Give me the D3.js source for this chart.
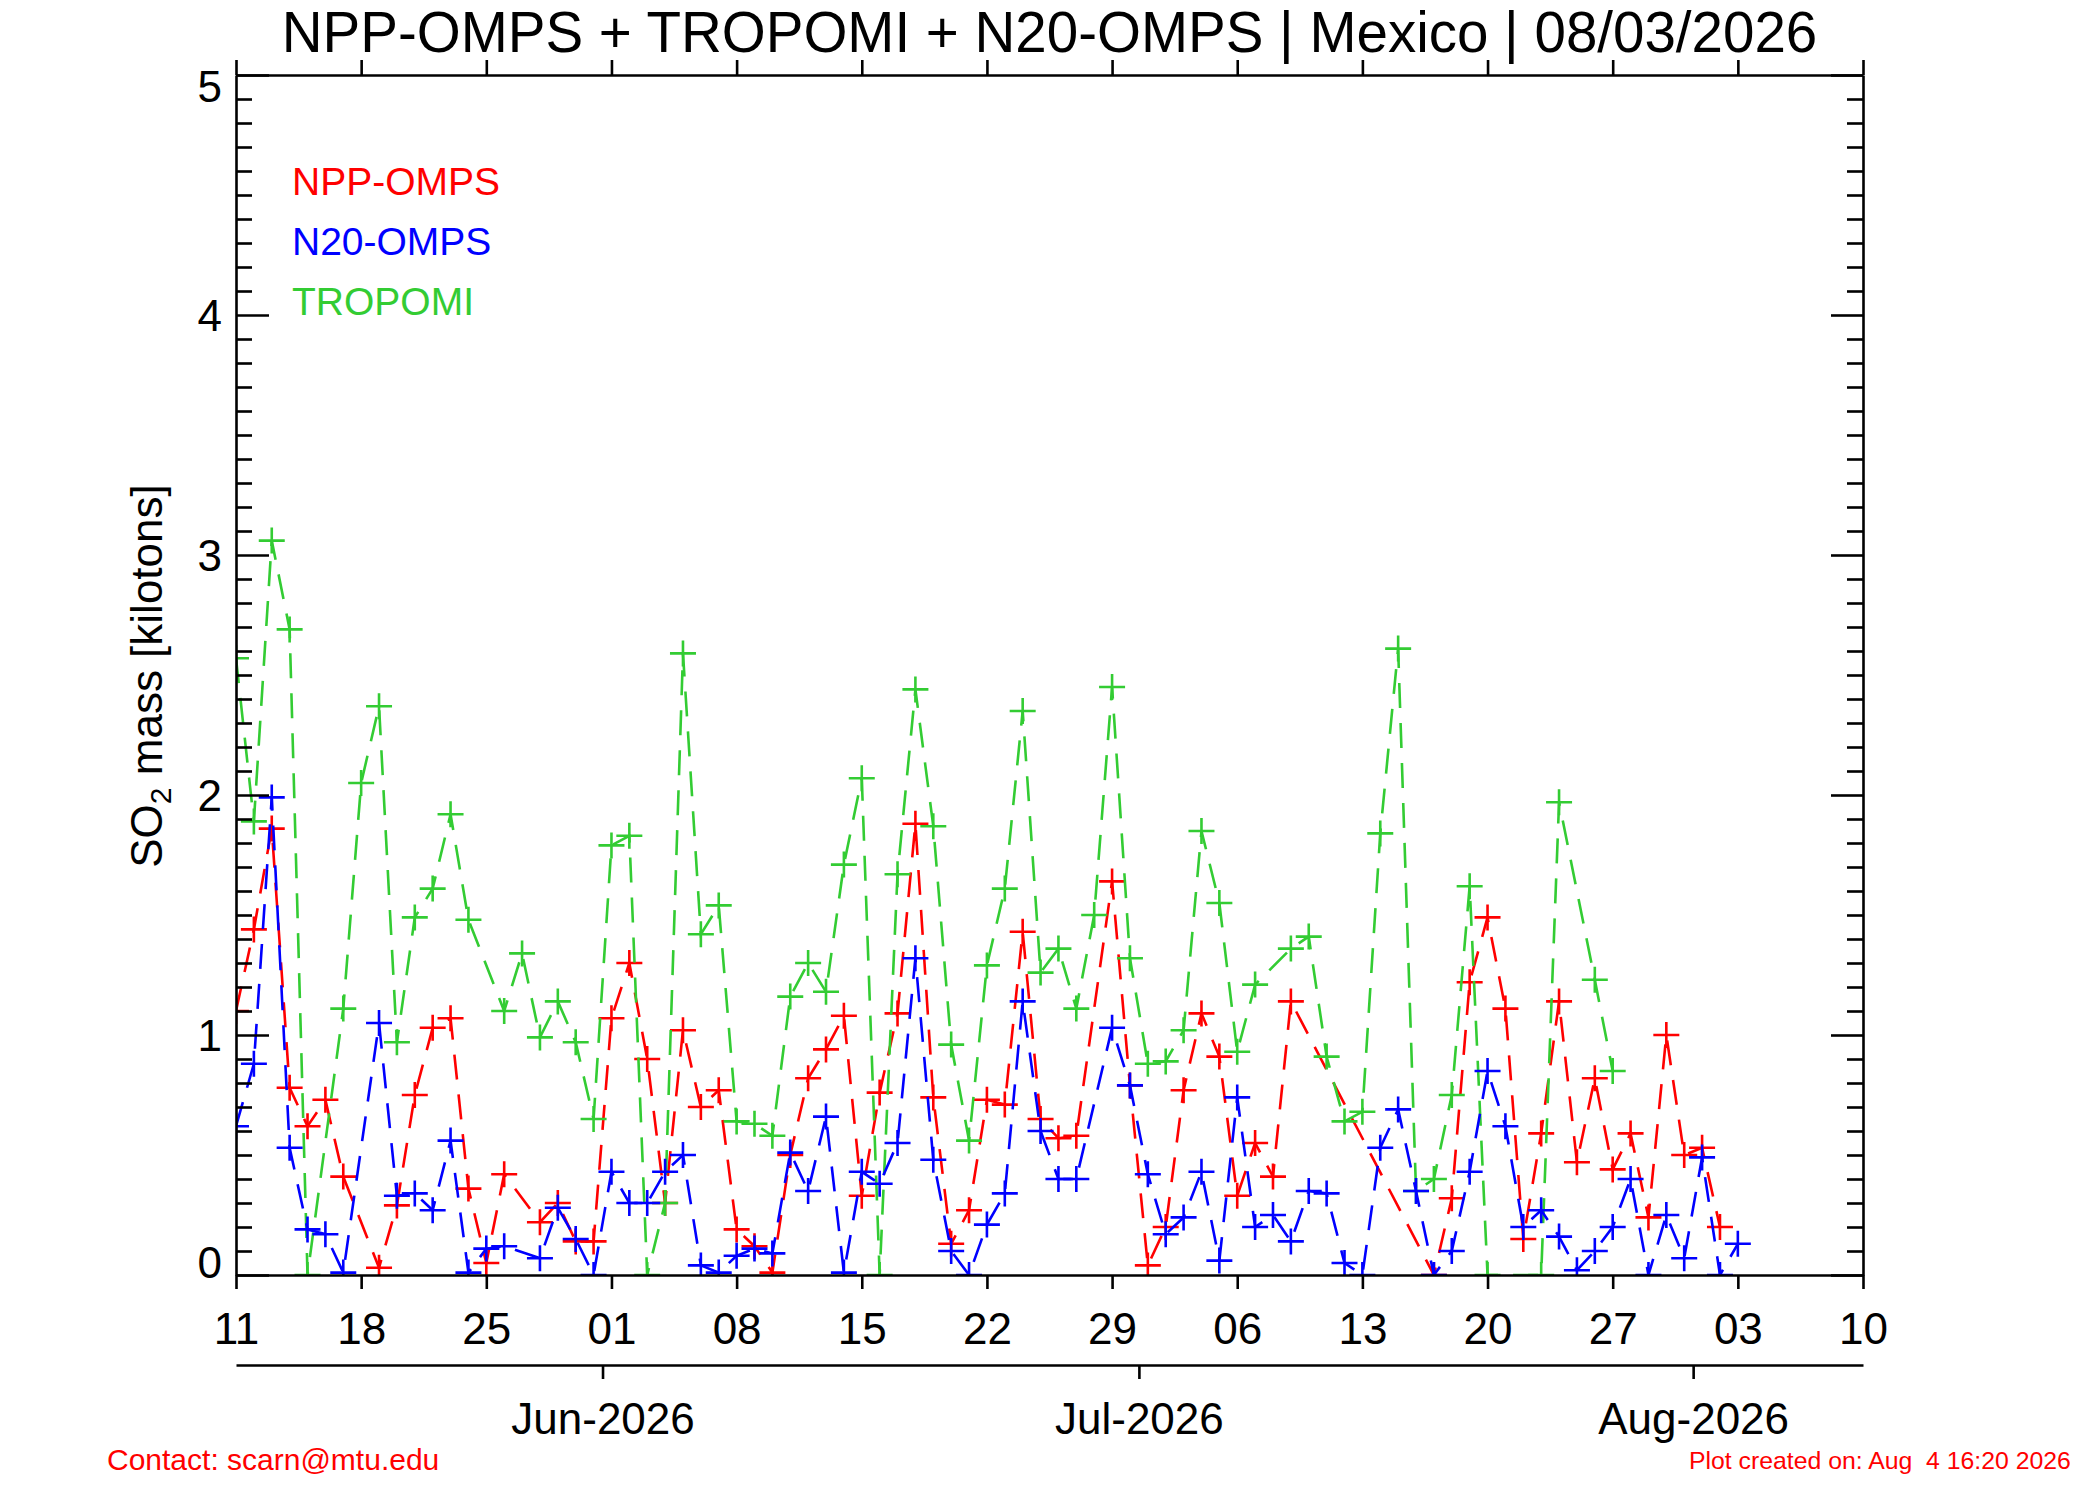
<!DOCTYPE html>
<html>
<head>
<meta charset="utf-8">
<script src="https://cdn.jsdelivr.net/npm/d3@7"></script>
<style>
  body { margin: 0; background: #fff; }
  svg { display: block; background: #fff; }
  text { font-family: "Liberation Sans", Arial, Helvetica, sans-serif; }
</style>
</head>
<body>
<svg id="chart" width="2100" height="1500"></svg>
<script>
// ---------------- DATA ----------------
const titleText = "NPP-OMPS + TROPOMI + N20-OMPS | Mexico | 08/03/2026";
const yAxisTitle = ["SO", "2", " mass [kilotons]"];
const contactText = "Contact: scarn@mtu.edu";
const createdText = "Plot created on: Aug  4 16:20 2026";

// daily dates: 2026-05-11 .. 2026-08-03
const firstDay = new Date(Date.UTC(2026, 4, 11));
const lastDayExclusive = new Date(Date.UTC(2026, 7, 4));
const dates = d3.utcDay.range(firstDay, lastDayExclusive);

const seriesNames = ["NPP-OMPS", "N20-OMPS", "TROPOMI"];

// NPP-OMPS (red)
const nppValues = [
  1.10, 1.44, 1.86, 0.78, 0.62, 0.73, 0.41, null, 0.03, 0.29,
  0.75, 1.03, 1.07, 0.36, 0.05, 0.42, null, 0.22, 0.30, 0.14,
  0.14, 1.07, 1.30, 0.90, 0.30, 1.02, 0.70, 0.77, 0.19, 0.12,
  0.01, 0.50, 0.82, 0.94, 1.08, 0.33, 0.76, 1.09, 1.88, 0.74,
  0.13, 0.27, 0.73, 0.71, 1.43, 0.65, 0.57, 0.58, null, 1.64,
  0.79, 0.04, 0.20, 0.77, 1.09, 0.91, 0.33, 0.55, 0.41, 1.14,
  null, null, null, null, null, null, null, 0.00, 0.32, 1.22,
  1.49, 1.11, 0.15, 0.59, 1.14, 0.47, 0.82, 0.44, 0.59, 0.24,
  1.00, 0.50, 0.53, 0.20, null
];

// N20-OMPS (blue)
const n20Values = [
  0.62, 0.88, 1.99, 0.53, 0.19, 0.17, 0.01, null, 1.05, 0.33,
  0.34, 0.27, 0.56, 0.01, 0.11, 0.12, null, 0.07, 0.28, 0.15,
  0.00, 0.43, 0.30, 0.30, 0.43, 0.50, 0.04, 0.01, 0.08, 0.11,
  0.09, 0.51, 0.35, 0.66, 0.01, 0.43, 0.38, 0.55, 1.32, 0.48,
  0.10, 0.00, 0.21, 0.34, 1.14, 0.60, 0.40, 0.40, null, 1.03,
  0.79, 0.42, 0.17, 0.24, 0.43, 0.06, 0.74, 0.20, 0.25, 0.14,
  0.35, 0.34, 0.05, 0.00, 0.53, 0.69, 0.35, 0.00, 0.10, 0.43,
  0.85, 0.62, 0.20, 0.27, 0.16, 0.02, 0.10, 0.20, 0.40, 0.00,
  0.25, 0.07, 0.49, 0.00, 0.13
];

// TROPOMI (green)
const tropomiValues = [
  2.57, 1.89, 3.06, 2.69, 0.00, null, 1.11, 2.05, 2.37, 0.97,
  1.49, 1.61, 1.92, 1.48, null, 1.10, 1.34, 0.99, 1.14, 0.97,
  0.65, 1.79, 1.83, 0.00, 0.30, 2.59, 1.42, 1.54, 0.64, 0.63,
  0.58, 1.16, 1.30, 1.18, 1.71, 2.07, 0.00, 1.67, 2.44, 1.87,
  0.96, 0.56, 1.29, 1.61, 2.35, 1.26, 1.36, 1.11, 1.50, 2.45,
  1.32, 0.88, 0.89, 1.02, 1.85, 1.55, 0.93, 1.21, null, 1.36,
  1.41, 0.91, 0.64, 0.68, 1.84, 2.61, 0.35, 0.40, 0.75, 1.62,
  0.00, null, null, 0.00, 1.97, null, 1.23, 0.85, null, null,
  null, null, null, null, null
];

const yMajorTicks = [0, 1, 2, 3, 4, 5];

// ---------------- LAYOUT ----------------
const W = 2100, H = 1500;
const plot = { left: 236, right: 1863, top: 75, bottom: 1275 };
const colors = { "NPP-OMPS": "#ff0000", "N20-OMPS": "#0000ff", "TROPOMI": "#33cc33" };
const lw = 2.6;
const svg = d3.select("#chart");

const x = d3.scaleUtc()
  .domain([new Date(Date.UTC(2026, 4, 11)), new Date(Date.UTC(2026, 7, 10))])
  .range([plot.left, plot.right]);
const y = d3.scaleLinear().domain([0, 5]).range([plot.bottom, plot.top]);

svg.append("rect").attr("width", W).attr("height", H).attr("fill", "#fff");

svg.append("clipPath").attr("id", "plotclip")
  .append("rect")
  .attr("x", plot.left).attr("y", plot.top)
  .attr("width", plot.right - plot.left).attr("height", plot.bottom - plot.top);

// ---------------- SERIES ----------------
const seriesData = [
  { name: "NPP-OMPS", values: nppValues },
  { name: "TROPOMI", values: tropomiValues },
  { name: "N20-OMPS", values: n20Values }
];

const gData = svg.append("g").attr("clip-path", "url(#plotclip)");
const line = d3.line().x(p => x(p.date)).y(p => y(p.v));

seriesData.forEach(s => {
  const pts = dates.map((date, i) => ({ date, v: s.values[i] })).filter(p => p.v != null);
  gData.append("path")
    .datum(pts)
    .attr("d", line)
    .attr("fill", "none")
    .attr("stroke", colors[s.name])
    .attr("stroke-width", lw)
    .attr("stroke-dasharray", "25,15");
  gData.append("g").selectAll("path")
    .data(pts)
    .join("path")
    .attr("transform", p => `translate(${x(p.date)},${y(p.v)})`)
    .attr("d", "M-13,0H13M0,-13V13")
    .attr("fill", "none")
    .attr("stroke", colors[s.name])
    .attr("stroke-width", lw);
});

// ---------------- AXES ----------------
const weekTicks = d3.utcDay.range(new Date(Date.UTC(2026, 4, 11)), new Date(Date.UTC(2026, 7, 11)), 7);
const yMinorTicks = d3.range(0, 51).map(i => i / 10).filter(v => Math.abs(v - Math.round(v)) > 1e-9);

function styleAxis(g, fontSize) {
  g.selectAll("path, line").attr("stroke", "#000").attr("stroke-width", lw);
  g.selectAll("text").attr("fill", "#000").attr("font-size", fontSize)
    .attr("font-family", '"Liberation Sans", Arial, Helvetica, sans-serif');
  g.attr("font-family", null).attr("font-size", null);
}

// bottom axis (day labels)
const gBottom = svg.append("g").attr("transform", `translate(0,${plot.bottom})`)
  .call(d3.axisBottom(x).tickValues(weekTicks).tickFormat(d3.utcFormat("%d"))
    .tickSize(14).tickSizeOuter(0).tickPadding(24));
styleAxis(gBottom, 44);

// top axis
const gTop = svg.append("g").attr("transform", `translate(0,${plot.top})`)
  .call(d3.axisTop(x).tickValues(weekTicks).tickFormat("").tickSize(15).tickSizeOuter(0));
styleAxis(gTop, 44);

// left axis major + minor
const gLeft = svg.append("g").attr("transform", `translate(${plot.left},0)`)
  .call(d3.axisLeft(y).tickValues(yMajorTicks).tickFormat(d3.format("d"))
    .tickSize(-33).tickSizeOuter(0).tickPadding(14));
styleAxis(gLeft, 44);
gLeft.selectAll(".tick text").attr("dy", null)
  .attr("dominant-baseline", "central")
  .attr("y", d => d === 0 ? -13 : (d === 5 ? 11 : 0));

const gLeftMinor = svg.append("g").attr("transform", `translate(${plot.left},0)`)
  .call(d3.axisLeft(y).tickValues(yMinorTicks).tickFormat("").tickSize(-16).tickSizeOuter(0));
gLeftMinor.select(".domain").remove();
styleAxis(gLeftMinor, 44);

// right axis major + minor
const gRight = svg.append("g").attr("transform", `translate(${plot.right},0)`)
  .call(d3.axisRight(y).tickValues(yMajorTicks).tickFormat("").tickSize(-32).tickSizeOuter(0));
styleAxis(gRight, 44);
const gRightMinor = svg.append("g").attr("transform", `translate(${plot.right},0)`)
  .call(d3.axisRight(y).tickValues(yMinorTicks).tickFormat("").tickSize(-16).tickSizeOuter(0));
gRightMinor.select(".domain").remove();
styleAxis(gRightMinor, 44);

// month axis (secondary, below)
const halfDay = 12 * 3600 * 1000;
const monthTicks = [
  new Date(Date.UTC(2026, 5, 1) - halfDay),
  new Date(Date.UTC(2026, 6, 1) - halfDay),
  new Date(Date.UTC(2026, 7, 1) - halfDay)
];
const monthFmt = d3.utcFormat("%b-%Y");
const gMonth = svg.append("g").attr("transform", "translate(0,1365)")
  .call(d3.axisBottom(x).tickValues(monthTicks).tickFormat(d => monthFmt(new Date(+d + halfDay)))
    .tickSize(14).tickSizeOuter(0).tickPadding(24));
styleAxis(gMonth, 44);

// ---------------- TEXT ----------------
svg.append("text")
  .attr("x", (plot.left + plot.right) / 2).attr("y", 52)
  .attr("text-anchor", "middle")
  .attr("font-size", 56.5).attr("fill", "#000")
  .text(titleText);

const yt = svg.append("text")
  .attr("transform", "translate(162,676) rotate(-90)")
  .attr("text-anchor", "middle")
  .attr("font-size", 44).attr("fill", "#000");
yt.append("tspan").text(yAxisTitle[0]);
yt.append("tspan").attr("font-size", 30).attr("dy", 9).text(yAxisTitle[1]);
yt.append("tspan").attr("font-size", 44).attr("dy", -9).text(yAxisTitle[2]);

// legend
const legendOrder = ["NPP-OMPS", "N20-OMPS", "TROPOMI"];
svg.append("g").selectAll("text")
  .data(legendOrder)
  .join("text")
  .attr("x", 292)
  .attr("y", (d, i) => 195 + i * 60)
  .attr("font-size", 39)
  .attr("fill", d => colors[d])
  .text(d => d);

// footer
svg.append("text")
  .attr("x", 107).attr("y", 1470)
  .attr("font-size", 30).attr("fill", "#ff0000")
  .text(contactText);
svg.append("text")
  .attr("x", 1689).attr("y", 1469)
  .attr("font-size", 24.8).attr("fill", "#ff0000")
  .style("white-space", "pre")
  .text(createdText);
</script>
</body>
</html>
